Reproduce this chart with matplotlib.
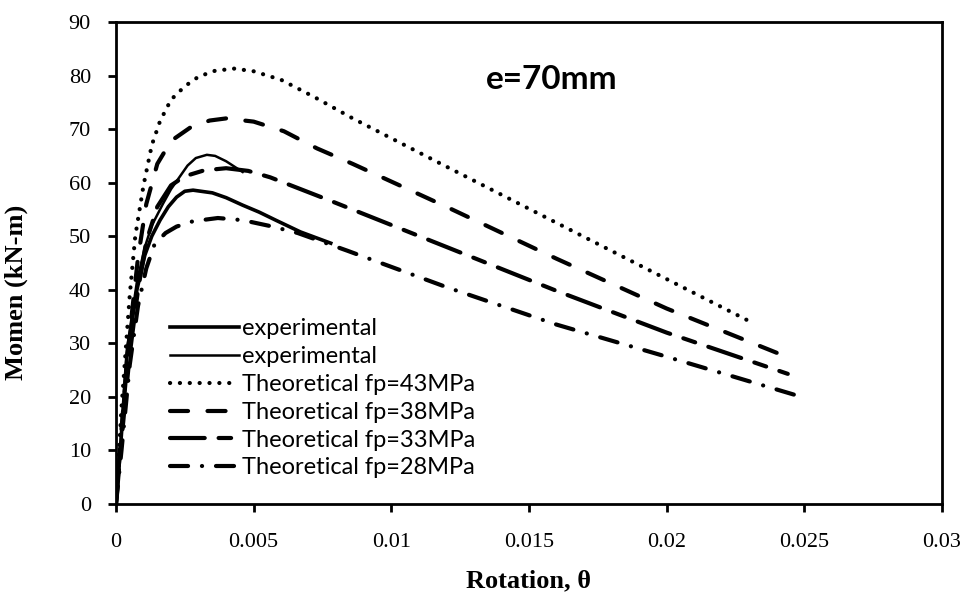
import numpy as np
import matplotlib
matplotlib.use("Agg")
import matplotlib.pyplot as plt

plt.rcParams['lines.scale_dashes'] = False

## curves (rotation, moment kN-m)
exp1_x = [0, 0.00015, 0.0004, 0.00076, 0.00105, 0.0013, 0.0016, 0.0019, 0.0022, 0.0025, 0.0028,
          0.0035, 0.004, 0.0046, 0.0052, 0.0058, 0.0067, 0.0078]
exp1_y = [0, 9.5, 28, 40, 46.5, 50, 53, 55.5, 57.3, 58.4, 58.6,
          58.1, 57.2, 55.8, 54.5, 53, 50.8, 48.7]

exp2_x = [0, 0.00015, 0.0004, 0.00076, 0.00105, 0.0013, 0.0017, 0.002, 0.0023, 0.0026, 0.0029,
          0.0033, 0.0036, 0.004, 0.0043, 0.0046]
exp2_y = [0, 10, 29, 41.5, 48, 52, 56, 58.8, 61, 63.2, 64.6,
          65.2, 65, 64, 63, 62]

fp43_x = [0, 0.0002, 0.0005, 0.0007, 0.001, 0.0013, 0.0016, 0.002, 0.0025, 0.003, 0.0036, 0.0043,
          0.005, 0.006, 0.0072, 0.0086, 0.012, 0.016, 0.02, 0.0229]
fp43_y = [0, 18, 39, 50, 59.5, 67, 71.5, 75.5, 78, 79.8, 80.9, 81.3,
          80.8, 79.2, 76, 72, 63, 52.5, 42, 34.4]

fp38_x = [0, 0.0002, 0.0005, 0.0008, 0.0011, 0.0015, 0.002, 0.0027, 0.0034, 0.004, 0.005, 0.0061,
          0.0073, 0.0086, 0.012, 0.016, 0.02, 0.0244]
fp38_y = [0, 14, 32, 46, 56, 63.5, 67.8, 70.3, 71.6, 72, 71.4, 69.6,
          66.4, 63.5, 55.5, 45.8, 36.5, 27.4]

fp33_x = [0, 0.0002, 0.0005, 0.0008, 0.0011, 0.0015, 0.002, 0.0025, 0.0032, 0.004, 0.0048, 0.0056,
          0.0066, 0.0078, 0.012, 0.016, 0.02, 0.0244]
fp33_y = [0, 12, 28, 40, 49, 55.5, 59.5, 61.2, 62.3, 62.7, 62.2, 61,
          59, 56.6, 48, 39.8, 32, 24.3]

fp28_x = [0, 0.0002, 0.0005, 0.0008, 0.0011, 0.0014, 0.0018, 0.0022, 0.0028, 0.0037, 0.0046, 0.0056,
          0.0066, 0.0084, 0.012, 0.016, 0.02, 0.0249]
fp28_y = [0, 10, 26, 37, 44, 48.5, 50.6, 51.8, 52.8, 53.4, 53, 51.9,
          50.6, 47.3, 40.5, 33.5, 27.5, 20]

labels = ['experimental', 'experimental', 'Theoretical fp=43MPa', 'Theoretical fp=38MPa',
          'Theoretical fp=33MPa', 'Theoretical fp=28MPa']

fig = plt.figure(figsize=(9.69, 6.03), dpi=100)
ax = fig.add_axes([0.1197, 0.1642, 0.8524, 0.7993])

ax.plot(exp1_x, exp1_y, c='black', lw=2.6, label=labels[0])
ax.plot(exp2_x, exp2_y, c='black', lw=1.8, label=labels[1])
ax.plot(fp43_x, fp43_y, c='black', lw=3, ls=(0, (0.1, 7)), dash_capstyle='round', label=labels[2])
ax.plot(fp38_x, fp38_y, c='black', lw=3, ls=(0, (13, 14)), dash_capstyle='round', label=labels[3])
ax.plot(fp33_x, fp33_y, c='black', lw=3, ls=(0, (25, 10, 9, 10)), dash_capstyle='round', label=labels[4])
ax.plot(fp28_x, fp28_y, c='black', lw=3, ls=(0, (13, 10, 0.1, 10)), dash_capstyle='round', label=labels[5])

ax.set_xlim(0, 0.03)
ax.set_ylim(0, 90)
ax.set_xticks(np.arange(0, 0.031, 0.005))
ax.set_xticklabels(['0', '0.005', '0.01', '0.015', '0.02', '0.025', '0.03'])
ax.set_yticks(np.arange(0, 91, 10))
for s in ax.spines.values():
    s.set_linewidth(2)
ax.tick_params(direction='out', length=6, width=2)
ax.tick_params(axis='x', pad=15)
ax.tick_params(axis='y', pad=12)
for t in ax.get_xticklabels() + ax.get_yticklabels():
    t.set_fontfamily('Liberation Serif')
    t.set_fontsize(16)

ax.set_xlabel('Rotation, θ', fontfamily='Liberation Serif', fontweight='bold', fontsize=19)
ax.set_ylabel('Momen (kN-m)', fontfamily='Liberation Serif', fontweight='bold', fontsize=19)
ax.xaxis.set_label_coords(0.5, -0.135)
ax.yaxis.set_label_coords(-0.107, 0.44)

ax.text(0.528, 0.88, 'e=70mm', transform=ax.transAxes, ha='center', va='center',
        fontfamily='Lato', fontweight='bold', fontsize=24)

leg = ax.legend(loc='upper left', bbox_to_anchor=(0.054, 0.405), frameon=False,
                prop={'family': 'Lato', 'size': 17}, handlelength=2.9,
                handletextpad=0.15, labelspacing=0.29, borderaxespad=0)

plt.savefig('out.png', dpi=100)
